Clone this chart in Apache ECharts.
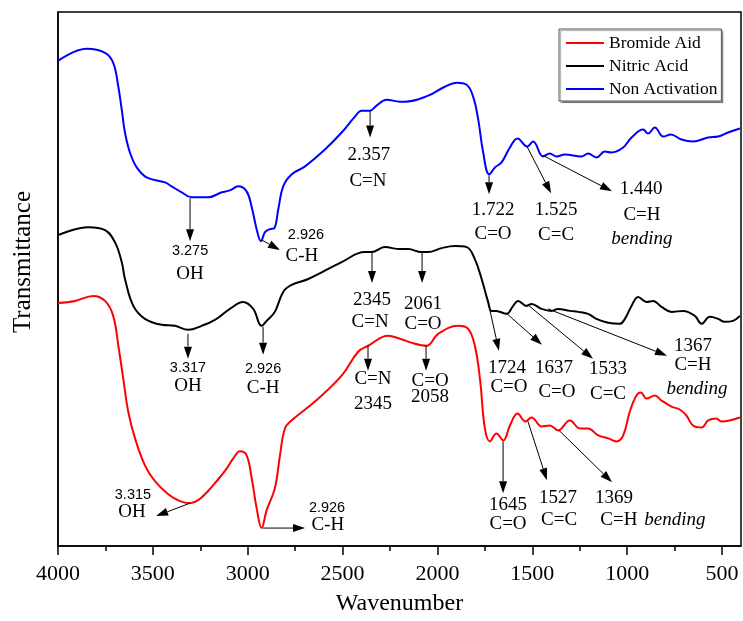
<!DOCTYPE html>
<html><head><meta charset="utf-8">
<script src="https://cdn.jsdelivr.net/npm/echarts@6/dist/echarts.min.js"></script>
<style>html,body{margin:0;padding:0;background:#fff}#c{width:743px;height:621px}</style>
</head><body><div id="c"></div>
<script>
const seriesNames = ['Bromide Aid', 'Nitric Acid', 'Non Activation'];

const bromideAid = [[4000,244],[3910,246],[3814,251],[3752,246],[3709,231],[3682,201],[3656,168],[3630,135],[3594,108],[3542,81],[3489,65],[3419,52],[3357,45],[3304,43],[3261,46],[3210,55],[3164,65],[3110,78],[3076,88],[3041,95],[3006,91],[2979,68],[2953,38],[2927,18],[2900,36],[2857,58],[2830,91],[2804,118],[2769,126],[2646,145],[2505,171],[2418,195],[2365,201],[2260,211],[2198,208],[2119,203],[2057,201],[1996,213],[1891,221],[1838,218],[1803,201],[1776,168],[1750,118],[1724,105],[1689,113],[1653,106],[1618,121],[1578,133],[1536,125],[1504,129],[1451,120],[1408,121],[1364,116],[1302,126],[1249,118],[1206,118],[1153,111],[1100,108],[1056,105],[1021,111],[986,135],[951,151],[928,154],[898,148],[854,151],[819,146],[766,140],[723,137],[688,131],[653,121],[608,119],[573,126],[530,128],[503,125],[460,126],[406,129]];

const nitricAcid = [[4000,312],[3840,320],[3752,317],[3700,305],[3664,285],[3647,268],[3603,241],[3542,228],[3454,222],[3384,221],[3313,217],[3243,221],[3173,227],[3094,238],[3024,245],[2971,238],[2927,221],[2900,226],[2857,235],[2813,255],[2769,262],[2681,268],[2505,285],[2382,295],[2347,295],[2277,300],[2198,298],[2154,298],[2084,295],[2049,295],[1978,299],[1908,301],[1846,300],[1803,288],[1767,268],[1733,245],[1715,236],[1690,236],[1636,233],[1601,241],[1575,246],[1531,241],[1504,243],[1451,238],[1399,236],[1364,238],[1302,236],[1258,235],[1206,233],[1162,228],[1100,224],[1039,223],[1012,228],[977,241],[942,250],[898,245],[863,246],[819,240],[766,235],[705,236],[643,231],[608,223],[564,230],[521,228],[486,225],[442,226],[406,231]];

const nonActivation = [[4000,487],[3849,499],[3752,495],[3709,485],[3682,461],[3664,438],[3647,415],[3621,395],[3585,380],[3533,370],[3436,365],[3401,361],[3348,355],[3296,350],[3208,350],[3137,355],[3094,357],[3050,361],[3006,356],[2980,341],[2953,318],[2930,306],[2909,315],[2883,318],[2860,319],[2839,338],[2813,361],[2769,373],[2698,381],[2593,398],[2505,415],[2435,431],[2400,437],[2356,437],[2321,442],[2268,448],[2198,446],[2172,446],[2049,452],[1961,461],[1899,465],[1846,463],[1812,451],[1785,428],[1759,395],[1727,373],[1697,380],[1662,385],[1618,400],[1578,409],[1527,401],[1496,406],[1443,391],[1408,394],[1372,391],[1329,393],[1241,391],[1206,394],[1162,390],[1118,396],[1083,395],[1021,400],[977,410],[916,418],[890,414],[854,420],[810,411],[770,413],[714,408],[653,406],[573,410],[521,411],[468,415],[406,419]];

const xTickValues = [4000, 3500, 3000, 2500, 2000, 1500, 1000, 500];
const xMinorTickValues = [3750, 3250, 2750, 2250, 1750, 1250, 750];

// arrows: [fromWavenumber, fromT, toWavenumber, toT]
const arrows = [[3304,349,3304,306],[2925,307,2830,297],[2355,437,2355,410],[1728,372,1728,353],[1528,401,1401,354],[1444,392,1080,356],
  [3315,213,3315,188],[2919,220,2919,192],[2345,295,2345,264],[2081,296,2081,264],[1739,250,1676,196],[1633,233,1449,202],[1523,242,1180,188],[1417,238,790,191],
  [3304,43,3483,30],[2919,18,2698,18],[2366,201,2366,176],[2060,201,2060,176],[1654,105,1654,53],[1523,125,1423,66],[1359,116,1080,64]];

// annotation texts: [text, wavenumber, T, kind]  s = small sans, r = serif, i = italic serif
const annotations = [['3.275',3304,296,'s'],['OH',3304,273,'r'],['2.926',2693,312,'s'],['C-H',2714,291,'r'],
  ['2.357',2361,392,'r'],['C=N',2366,366,'r'],['1.722',1707,337,'r'],['C=O',1707,313,'r'],['1.525',1375,337,'r'],['C=C',1375,312,'r'],
  ['1.440',927,358,'r'],['C=H',922,332,'r'],['bending',922,308,'i'],
  ['3.317',3315,179,'s'],['OH',3315,161,'r'],['2.926',2919,178,'s'],['C-H',2919,159,'r'],
  ['2345',2345,247,'r'],['C=N',2355,225,'r'],['2061',2076,243,'r'],['C=O',2076,223,'r'],
  ['1724',1633,179,'r'],['C=O',1623,160,'r'],['1637',1386,179,'r'],['C=O',1370,155,'r'],['1533',1101,178,'r'],['C=C',1101,153,'r'],
  ['1367',653,201,'r'],['C=H',653,182,'r'],['bending',632,158,'i'],
  ['3.315',3605,51,'s'],['OH',3610,34,'r'],['2.926',2582,38,'s'],['C-H',2577,21,'r'],
  ['C=N',2340,168,'r'],['2345',2340,143,'r'],['C=O',2039,166,'r'],['2058',2039,150,'r'],
  ['1645',1628,41,'r'],['C=O',1628,22,'r'],['1527',1364,48,'r'],['C=C',1359,26,'r'],
  ['1369',1069,48,'r'],['C=H',1044,26,'r'],['bending',748,26,'i']];

const SERIF = '"Liberation Serif", "Times New Roman", serif';
const SANS = '"Liberation Sans", Arial, sans-serif';
const colors = ['#ff0000', '#000000', '#0000ff'];
const datasets = [bromideAid, nitricAcid, nonActivation];

const chart = echarts.init(document.getElementById('c'), null, {renderer: 'canvas'});
const lineSeries = seriesNames.map((n, i) => ({
  name: n, type: 'line', data: datasets[i], symbol: 'none', showSymbol: false, smooth: 0.4,
  lineStyle: {color: colors[i], width: 2}, itemStyle: {color: colors[i]}, z: 3, silent: true
}));

const option = {
  animation: false,
  backgroundColor: '#fff',
  grid: {left: 58, right: 2, top: 12, bottom: 73, show: true, borderColor: '#000', borderWidth: 1.5, backgroundColor: 'transparent'},
  legend: {
    data: seriesNames.map(n => ({name: n, icon: 'rect'})), orient: 'vertical', left: 559, top: 29,
    itemWidth: 38, itemHeight: 2, itemGap: 5, padding: [5, 4, 3, 7],
    textStyle: {fontFamily: SERIF, fontSize: 17.5, color: '#000', lineHeight: 17},
    borderColor: '#555', borderWidth: 1, backgroundColor: '#fff',
    shadowColor: 'rgba(0,0,0,0.35)', shadowOffsetX: 1.5, shadowOffsetY: 1.5, shadowBlur: 1
  },
  xAxis: [{
    type: 'value', min: 400, max: 4000, inverse: true, gridIndex: 0,
    axisLine: {show: true, lineStyle: {color: '#000', width: 1.5}},
    axisTick: {show: true, customValues: xTickValues, length: 9, inside: false, lineStyle: {color: '#000', width: 1.5}},
    axisLabel: {show: true, customValues: xTickValues, formatter: v => String(v), fontFamily: SERIF, fontSize: 22, color: '#000', margin: 17},
    splitLine: {show: false},
    name: 'Wavenumber', nameLocation: 'middle', nameGap: 46,
    nameTextStyle: {fontFamily: SERIF, fontSize: 24, color: '#000'}
  }, {
    type: 'value', min: 400, max: 4000, inverse: true, gridIndex: 0, position: 'bottom',
    axisLine: {show: false},
    axisTick: {show: true, customValues: xMinorTickValues, length: 5, inside: false, lineStyle: {color: '#000', width: 1.5}},
    axisLabel: {show: false}, splitLine: {show: false}
  }],
  yAxis: {
    type: 'value', min: 0, max: 536,
    axisLine: {show: true, lineStyle: {color: '#000', width: 1.5}},
    axisTick: {show: false}, axisLabel: {show: false}, splitLine: {show: false}
  },
  graphic: [{
    type: 'text', x: 23, y: 262, rotation: Math.PI / 2,
    style: {text: 'Transmittance', fontFamily: SERIF, fontSize: 25, fill: '#000', align: 'center', verticalAlign: 'middle'}
  }],
  series: lineSeries.concat([{
    type: 'custom', silent: true, z: 5, data: arrows,
    renderItem: function (params, api) {
      const a = arrows[params.dataIndex];
      const p1 = api.coord([a[0], a[1]]);
      const p2 = api.coord([a[2], a[3]]);
      const dx = p2[0] - p1[0], dy = p2[1] - p1[1];
      const len = Math.hypot(dx, dy) || 1;
      const ux = dx / len, uy = dy / len;
      const hl = 12, hw = 4;
      const bx = p2[0] - ux * hl, by = p2[1] - uy * hl;
      return {type: 'group', children: [
        {type: 'line', shape: {x1: p1[0], y1: p1[1], x2: bx, y2: by}, style: {stroke: '#000', lineWidth: 1}},
        {type: 'polygon', shape: {points: [[p2[0], p2[1]], [bx - uy * hw, by + ux * hw], [bx + uy * hw, by - ux * hw]]}, style: {fill: '#000'}}
      ]};
    }
  }, {
    type: 'custom', silent: true, z: 6, data: annotations.map(a => [a[1], a[2]]),
    renderItem: function (params, api) {
      const a = annotations[params.dataIndex];
      const p = api.coord([a[1], a[2]]);
      const kind = a[3];
      return {type: 'text', x: p[0], y: p[1], style: {
        text: a[0], fill: '#000', align: 'center', verticalAlign: 'middle',
        fontFamily: kind === 's' ? SANS : SERIF,
        fontSize: kind === 's' ? 14.5 : 19,
        fontStyle: kind === 'i' ? 'italic' : 'normal'
      }};
    }
  }])
};
chart.setOption(option);
</script></body></html>
